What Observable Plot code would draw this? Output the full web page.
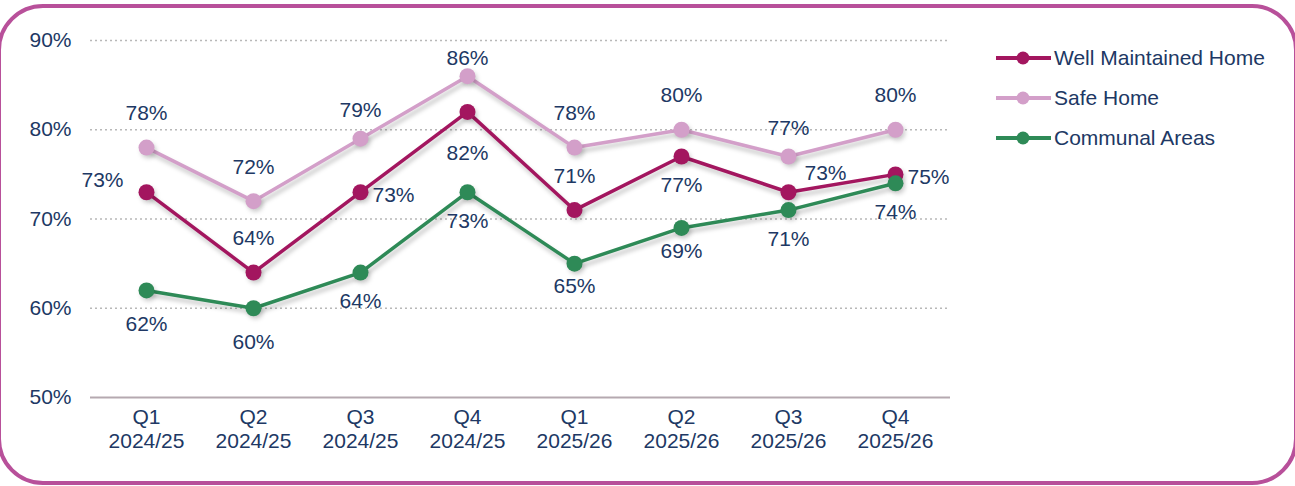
<!DOCTYPE html>
<html>
<head>
<meta charset="utf-8">
<script src="https://cdn.jsdelivr.net/npm/d3@7"></script>
<script src="https://cdn.jsdelivr.net/npm/@observablehq/plot@0.6"></script>
<style>
  html, body { margin: 0; padding: 0; background: #fff; overflow: hidden; }
  body { width: 1295px; height: 486px; position: relative; font-family: "Liberation Sans", Arial, sans-serif; }
  #frame { position: absolute; left: -3px; top: 4px; width: 1301px; height: 481px; box-sizing: border-box;
    border: 4px solid #b8509a; border-radius: 46px; }
  #chart { position: absolute; left: 0; top: 0; }
  #legend { position: absolute; left: 995px; top: 38px; color: #203864; font-size: 21px; }
  .item { display: flex; align-items: center; height: 40px; margin-top: 0; }
  .item svg { margin-right: 2px; }
</style>
</head>
<body>
<div id="frame"></div>
<div id="chart"></div>
<div id="legend"></div>
<script>
const quarters = ["Q1", "Q2", "Q3", "Q4", "Q1", "Q2", "Q3", "Q4"];
const years = ["2024/25", "2024/25", "2024/25", "2024/25", "2025/26", "2025/26", "2025/26", "2025/26"];
const wellMaintained = [73, 64, 73, 82, 71, 77, 73, 75];
const safeHome = [78, 72, 79, 86, 78, 80, 77, 80];
const communalAreas = [62, 60, 64, 73, 65, 69, 71, 74];
const wellMaintainedLabelPos = ["left", "above", "right", "belowFar", "above", "belowMid", "aboveRight", "right"];
const safeHomeLabelPos = ["above", "above", "aboveMid", "aboveClose", "above", "above", "aboveMid", "above"];
const communalLabelPos = ["below", "below", "belowMid", "belowMid", "belowNear", "belowNear", "belowMid", "belowMid"];
const yTicks = [50, 60, 70, 80, 90];
const seriesNames = ["Well Maintained Home", "Safe Home", "Communal Areas"];
const seriesColors = ["#a3165f", "#d39fc9", "#2e8a57"];

const cats = quarters.map((q, i) => q + "\n" + years[i]);
const textColor = "#203864";
const font = "'Liberation Sans', Arial, sans-serif";

const series = [
  {name: seriesNames[1], values: safeHome, pos: safeHomeLabelPos, color: seriesColors[1]},
  {name: seriesNames[0], values: wellMaintained, pos: wellMaintainedLabelPos, color: seriesColors[0]},
  {name: seriesNames[2], values: communalAreas, pos: communalLabelPos, color: seriesColors[2]}
];

const offsets = {
  above: [0, -34],
  aboveMid: [0, -28],
  aboveClose: [0, -18],
  belowFar: [0, 41],
  below: [0, 34],
  belowMid: [0, 29],
  belowNear: [0, 23],
  left: [-44, -12],
  right: [33, 3],
  aboveRight: [37, -19]
};

const marks = [
  Plot.gridY(yTicks.filter(d => d > 50), {stroke: "#b8b8b8", strokeOpacity: 1, strokeDasharray: "2,3", strokeWidth: 1.3}),
  Plot.ruleY([50], {stroke: "#b5a9b0", strokeWidth: 2}),
  Plot.axisY({ticks: yTicks, tickFormat: d => d + "%", tickSize: 0, tickPadding: 19, fontSize: 21, fill: textColor}),
  Plot.axisX({tickSize: 0, tickPadding: 9, fontSize: 21, fill: textColor, lineHeight: 1.15})
];

for (const s of series) {
  const data = s.values.map((v, i) => ({cat: cats[i], v, pos: s.pos[i]}));
  marks.push(Plot.line(data, {x: "cat", y: "v", stroke: s.color, strokeWidth: 3.5}));
}
for (const s of series) {
  const data = s.values.map((v, i) => ({cat: cats[i], v, pos: s.pos[i]}));
  marks.push(Plot.dot(data, {x: "cat", y: "v", fill: s.color, r: 8}));
}
for (const s of series) {
  const data = s.values.map((v, i) => ({cat: cats[i], v, pos: s.pos[i]}));
  for (const p of Object.keys(offsets)) {
    const sub = data.filter(d => d.pos === p);
    if (!sub.length) continue;
    marks.push(Plot.text(sub, {x: "cat", y: "v", text: d => d.v + "%", dx: offsets[p][0], dy: offsets[p][1],
      fill: textColor, fontSize: 21}));
  }
}

const chart = Plot.plot({
  width: 960,
  height: 470,
  marginLeft: 90,
  marginRight: 10,
  marginTop: 40,
  marginBottom: 73,
  style: {fontFamily: font, background: "transparent", overflow: "visible"},
  x: {type: "point", domain: cats, padding: 0.5, label: null},
  y: {domain: [50, 90], label: null},
  marks
});
d3.select(chart).selectAll('g[aria-label="line"]').style("filter", "drop-shadow(2px 4px 2px rgba(0,0,0,0.22))");
d3.select(chart).selectAll('g[aria-label="dot"]').style("filter", "drop-shadow(2px 3px 2px rgba(0,0,0,0.18))");
document.getElementById("chart").appendChild(chart);

const legend = document.getElementById("legend");
seriesNames.forEach((n, i) => {
  const div = document.createElement("div");
  div.className = "item";
  div.innerHTML = `<svg width="57" height="16"><line x1="1" x2="56" y1="8" y2="8" stroke="${seriesColors[i]}" stroke-width="4"/><circle cx="28" cy="8" r="6.5" fill="${seriesColors[i]}"/></svg><span>${n}</span>`;
  legend.appendChild(div);
});
</script>
</body>
</html>
